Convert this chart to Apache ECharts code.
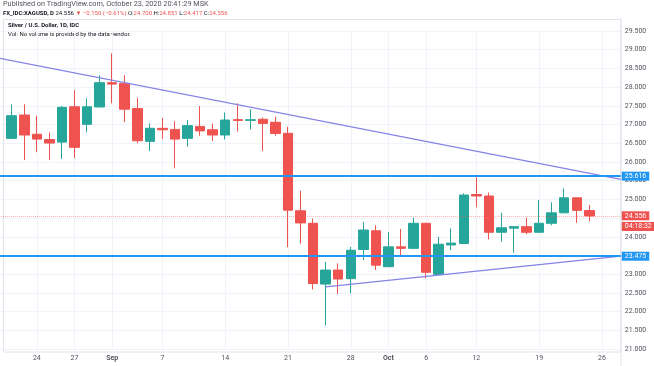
<!DOCTYPE html>
<html><head><meta charset="utf-8">
<script src="https://cdn.jsdelivr.net/npm/echarts@6/dist/echarts.min.js"></script>
<style>html,body{margin:0;padding:0;background:#fff}#c{width:654px;height:366px}</style>
</head><body><div id="c"></div>
<script>
// ---- data ----
const dates = ['2020-08-20','2020-08-21','2020-08-24','2020-08-25','2020-08-26','2020-08-27','2020-08-28',
  '2020-08-31','2020-09-01','2020-09-02','2020-09-03','2020-09-04','2020-09-07','2020-09-08','2020-09-09',
  '2020-09-10','2020-09-11','2020-09-14','2020-09-15','2020-09-16','2020-09-17','2020-09-18','2020-09-21',
  '2020-09-22','2020-09-23','2020-09-24','2020-09-25','2020-09-28','2020-09-29','2020-09-30','2020-10-01',
  '2020-10-02','2020-10-05','2020-10-06','2020-10-07','2020-10-08','2020-10-09','2020-10-12','2020-10-13',
  '2020-10-14','2020-10-15','2020-10-16','2020-10-19','2020-10-20','2020-10-21','2020-10-22','2020-10-23'];
const opens  = [26.63,27.254,26.74,26.60,26.53,27.476,27.005,27.47,28.118,28.10,27.43,26.55,26.898,26.87,26.63,
  26.95,26.86,26.72,27.13,27.11,27.14,27.06,26.765,24.695,24.36,22.735,23.11,22.88,23.66,24.16,23.20,
  23.73,23.69,24.36,22.995,23.78,23.82,25.13,25.09,24.12,24.23,24.27,24.12,24.36,24.64,25.04,24.700];
const closes = [27.235,26.72,26.61,26.505,27.46,26.39,27.476,28.118,28.08,27.41,26.567,26.90,26.86,26.61,26.97,
  26.83,26.72,27.12,27.11,27.13,27.03,26.76,24.71,24.37,22.75,23.11,22.87,23.64,24.18,23.24,23.73,
  23.69,24.36,23.05,23.80,23.83,25.115,25.09,24.12,24.24,24.27,24.12,24.36,24.64,25.04,24.706,24.556];
const lows   = [26.61,26.05,26.26,26.05,26.08,26.10,26.79,27.46,27.567,27.06,26.50,26.29,26.61,25.83,26.41,
  26.70,26.56,26.60,26.81,26.87,26.29,26.70,23.72,23.82,22.59,21.64,22.47,22.49,23.38,23.11,23.19,
  23.48,23.68,22.89,22.98,23.64,23.81,24.79,23.93,23.87,23.57,24.07,24.11,24.31,24.63,24.37,24.417];
const highs  = [27.54,27.54,27.235,26.79,27.495,27.92,27.70,28.32,28.90,28.32,27.72,27.03,27.18,27.09,27.12,
  27.495,27.03,27.32,27.567,27.41,27.19,27.21,26.94,25.23,24.49,23.33,23.29,23.73,24.40,24.31,24.13,
  24.21,24.51,24.37,24.00,24.225,25.16,25.59,25.18,24.64,24.28,24.51,24.98,24.92,25.29,25.05,24.851];
const padBefore = ['2020-08-19'];
const padAfter = ['2020-10-26','2020-10-27'];
const tickDates  = ['2020-08-24','2020-08-27','2020-09-01','2020-09-07','2020-09-14','2020-09-21',
  '2020-09-28','2020-10-01','2020-10-06','2020-10-12','2020-10-19','2020-10-26'];
const tickLabels = ['24','27','Sep','7','14','21','28','Oct','6','12','19','26'];
const monthLabels = ['Sep','Oct'];
const levelLines = [25.616, 23.475];
const lastPrice = 24.556;
const countdown = '04:18:32';
// trend lines in category-index units (index 0 = first axis category)
const upperTrend = [[-0.5, 28.807],[49.5, 25.535]];
const lowerTrend = [[26, 22.663],[49.5, 23.484]];
const yMin = 21, yMax = 29.5, yStep = 0.5;

// ---- build ----
const UP = '#26a69a', DOWN = '#ef5350', BLUE = '#2196f3', TREND = '#8682e6', GRID = '#f0f3fa';
const FONT = 'Roboto, "Liberation Sans", sans-serif';
const cats = padBefore.concat(dates, padAfter);
const candleData = cats.map(d => {
  const i = dates.indexOf(d);
  return i < 0 ? '-' : [opens[i], closes[i], lows[i], highs[i]];
});

const chart = echarts.init(document.getElementById('c'), null, {renderer: 'canvas'});
const option = {
  animation: false,
  backgroundColor: '#ffffff',
  grid: {left: -7.1, right: 33.25, top: 31, bottom: 17, outerBoundsMode: 'none'},
  xAxis: [{
    type: 'category', data: cats, boundaryGap: true,
    axisLine: {show: false}, axisTick: {show: false}, splitLine: {show: false},
    axisLabel: {
      interval: (i, v) => tickDates.indexOf(v) >= 0,
      formatter: v => {
        const t = tickLabels[tickDates.indexOf(v)];
        return monthLabels.indexOf(t) >= 0 ? '{m|' + t + '}' : t;
      },
      color: '#50535e', fontSize: 7, fontFamily: FONT, margin: 6,
      rich: {m: {fontWeight: 'bold', color: '#50535e', fontSize: 7, fontFamily: FONT}}
    }
  }, {
    type: 'value', min: -0.5, max: cats.length - 0.5, show: false
  }],
  yAxis: [{
    type: 'value', position: 'right', min: yMin, max: yMax, interval: yStep,
    axisLine: {show: false}, axisTick: {show: false},
    splitLine: {show: true, lineStyle: {color: GRID, width: 1}},
    axisLabel: {formatter: v => v.toFixed(3), color: '#50535e', fontSize: 7, fontFamily: FONT, margin: 4}
  }],
  series: [{
    type: 'line', xAxisIndex: 0, data: cats.map(() => '-'), silent: true,
    markLine: {
      silent: true, symbol: 'none', z: 1, animation: false,
      lineStyle: {color: GRID, width: 1, type: 'solid'},
      label: {show: false},
      data: tickDates.map(d => ({xAxis: d}))
    }
  }, {
    type: 'candlestick', xAxisIndex: 0, data: candleData, barWidth: 10, z: 3,
    itemStyle: {color: UP, color0: DOWN, borderColor: UP, borderColor0: DOWN, borderWidth: 1},
    markLine: {
      silent: true, symbol: 'none', z: 6, animation: false,
      data: levelLines.map(v => ({
        yAxis: v,
        lineStyle: {color: BLUE, width: 2, type: 'solid'},
        label: {show: true, position: 'end', distance: 1, formatter: () => v.toFixed(3),
          color: '#fff', backgroundColor: BLUE, fontSize: 7, fontFamily: FONT, padding: [1, 3, 1, 3]}
      })).concat([{
        yAxis: lastPrice,
        lineStyle: {color: 'rgba(239,83,80,0.45)', width: 1, type: 'dotted'},
        label: {show: true, position: 'end', distance: 1, formatter: () => lastPrice.toFixed(3),
          color: '#fff', backgroundColor: DOWN, fontSize: 7, fontFamily: FONT, padding: [1, 3, 1, 3]}
      }])
    }
  }, {
    type: 'line', xAxisIndex: 1, data: upperTrend, symbol: 'none', silent: true, z: 4,
    lineStyle: {color: TREND, width: 1.3}
  }, {
    type: 'line', xAxisIndex: 1, data: lowerTrend, symbol: 'none', silent: true, z: 4,
    lineStyle: {color: TREND, width: 1.3}
  }]
};
chart.setOption(option);

const yLast = chart.convertToPixel({yAxisIndex: 0}, lastPrice);
chart.setOption({
  graphic: [
    {type: 'rect', silent: true, z: 0, shape: {x: 3.5, y: 19.5, width: 617.5, height: 332.5},
      style: {fill: 'none', stroke: '#e0e3eb', lineWidth: 1}},
    {type: 'line', silent: true, shape: {x1: 621, y1: 19, x2: 621, y2: 366}, style: {stroke: '#e0e3eb', lineWidth: 1}},
    {type: 'text', silent: true, x: 3, y: 1, style: {
      text: 'Published on TradingView.com, October 23, 2020 20:41:29 MSK',
      fill: '#50535e', font: '7.3px ' + FONT}},
    {type: 'text', silent: true, x: 3, y: 10.5, style: {
      text: '{b|FX_IDC:XAGUSD, D} {n|24.556} {r|▼ −0.150 (−0.61%)} {n|O:}{r|24.700} {n|H:}{r|24.851} {n|L:}{r|24.417} {n|C:}{r|24.556}',
      font: '6px ' + FONT,
      rich: {
        b: {fontWeight: 'bold', fill: '#131722', fontSize: 6, fontFamily: FONT},
        n: {fill: '#131722', fontSize: 6, fontFamily: FONT},
        r: {fill: DOWN, fontSize: 6, fontFamily: FONT}
      }}},
    {type: 'text', silent: true, x: 8, y: 22.5, style: {
      text: 'Silver / U.S. Dollar, 1D, IDC', fill: '#131722', font: 'bold 6px ' + FONT}},
    {type: 'text', silent: true, x: 8, y: 31.5, style: {
      text: 'Vol: No volume is provided by the data vendor.', fill: '#131722', font: '6px ' + FONT}},
    {type: 'text', silent: true, z: 10, x: 621.75, y: yLast + 6, style: {
      text: countdown, fill: '#fff', backgroundColor: DOWN, padding: [1, 3, 1, 3], font: '7px ' + FONT}}
  ]
});
</script></body></html>
